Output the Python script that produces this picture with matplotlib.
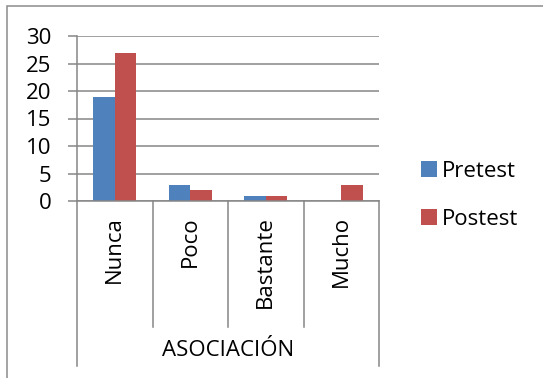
import matplotlib
matplotlib.use("Agg")
import matplotlib.pyplot as plt
import matplotlib.transforms as mtransforms
from matplotlib.patches import Rectangle
from matplotlib.lines import Line2D
import numpy as np

categories = ["Nunca", "Poco", "Bastante", "Mucho"]
group_label = "ASOCIACIÓN"
pretest = [19, 3, 1, 0]
postest = [27, 2, 1, 3]
series_names = ["Pretest", "Postest"]
yticks = [0, 5, 10, 15, 20, 25, 30]

BLUE = "#4F81BD"
RED = "#C0504D"
GRID = "#868686"
FONT = "Open Sans"
FS = 16

W, H = 543, 378
plt.rcParams["font.family"] = [FONT, "DejaVu Sans"]
fig = plt.figure(figsize=(W / 100, H / 100), dpi=100)


def fx(px):
    return px / W


def fy(py):
    return 1 - py / H


# plot area
left, right, top, bottom = 77, 379, 36, 201
ax = fig.add_axes([fx(left), fy(bottom), fx(right - left), (bottom - top) / H])

x = np.arange(len(categories))
bw = 0.2857
ax.bar(x - bw / 2, pretest, bw, color=BLUE, zorder=3)
ax.bar(x + bw / 2, postest, bw, color=RED, zorder=3)

ax.set_xlim(-0.5, len(categories) - 0.5)
ax.set_ylim(0, 30)
ax.set_yticks(yticks)
ax.set_yticklabels([str(v) for v in yticks], fontsize=FS)
ax.yaxis.grid(True, color=GRID, linewidth=1.1, zorder=0)
ax.tick_params(axis="y", length=6.5, width=1.1, color=GRID, pad=12)
ax.set_xticks([])
for s in ["top", "right"]:
    ax.spines[s].set_visible(False)
for s in ["left", "bottom"]:
    ax.spines[s].set_color(GRID)
    ax.spines[s].set_linewidth(1.1)
ax.spines["bottom"].set_zorder(4)

# multi-level category axis
trans = mtransforms.blended_transform_factory(ax.transData, ax.transAxes)
h_ax = bottom - top
inner_end = -(327 - bottom) / h_ax
outer_end = -(366 - bottom) / h_ax
for i in range(len(categories) + 1):
    xb = i - 0.5
    end = outer_end if i in (0, len(categories)) else inner_end
    ax.add_line(Line2D([xb, xb], [0, end], transform=trans,
                       color=GRID, linewidth=1.1, clip_on=False))
for i, c in enumerate(categories):
    ax.text(i, -(216 - bottom) / h_ax, c, transform=trans, rotation=90,
            ha="center", va="top", fontsize=FS, color="black")
ax.text((len(categories) - 1) / 2, -(350 - bottom) / h_ax, group_label,
        transform=trans, ha="center", va="center", fontsize=FS,
        color="black")

# legend
for k, (name, col) in enumerate(zip(series_names, [BLUE, RED])):
    cy = 169 + 48 * k
    fig.add_artist(Rectangle((fx(421), fy(cy + 8)), fx(16), 16 / H,
                             transform=fig.transFigure, facecolor=col,
                             edgecolor="none"))
    fig.text(fx(442), fy(cy), name, ha="left", va="center_baseline",
             fontsize=FS, color="black")

# chart border
fig.add_artist(Rectangle((fx(7), fy(H + 10)), fx(W + 10), (H + 10 - 6) / H,
                         transform=fig.transFigure, fill=False,
                         edgecolor="#8c8c8c", linewidth=1.1))

fig.savefig("out.png", dpi=100)
